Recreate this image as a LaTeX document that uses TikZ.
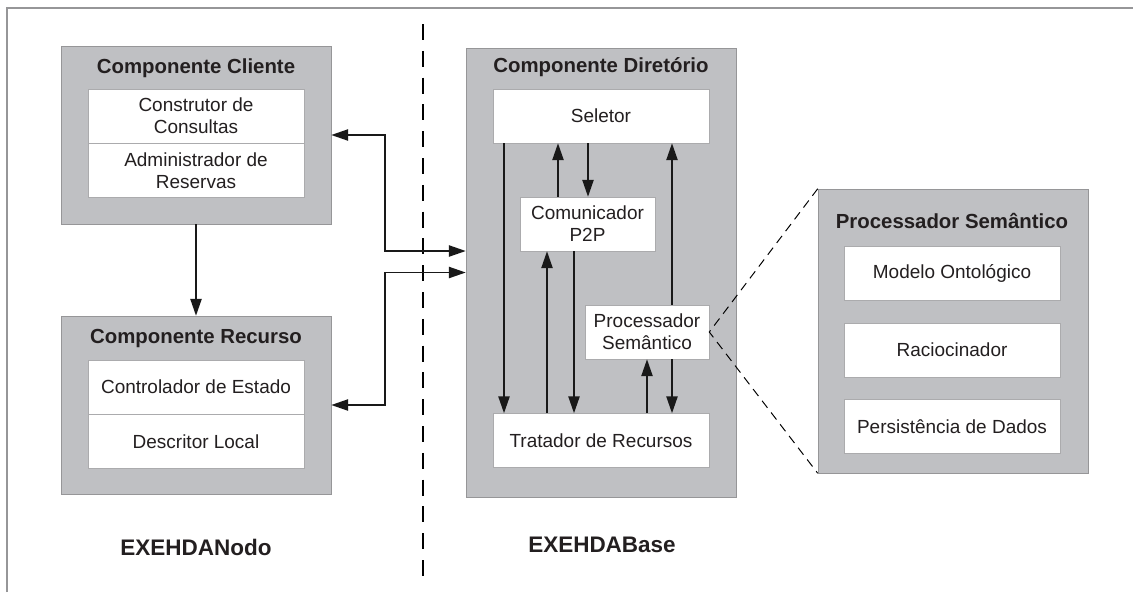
\documentclass[tikz,border=0pt]{standalone}
\usepackage{fontspec}
\setmainfont{Liberation Sans}
\usepackage{xcolor}
\usepackage{tikz}
\usetikzlibrary{chains,positioning,arrows.meta}

\definecolor{boxgray}{RGB}{191,192,195}
\definecolor{boxline}{RGB}{150,150,152}
\definecolor{textgray}{RGB}{35,31,32}

\begin{document}
\begin{tikzpicture}[>={Triangle[length=0.42cm,width=0.28cm]},text=textgray]
        \useasboundingbox (0,0) rectangle (28.325,-14.8);

        \edef\sizebox{6.75cm}
        \tikzstyle{compbox}=[draw=boxline,fill=boxgray,minimum width=\sizebox,inner sep=0pt]
        \tikzstyle{subbox}=[draw=boxline!80,fill=white,minimum width=5.4cm,minimum height=1.35cm,align=center,font=\fontsize{13.5}{15.5}\selectfont]
        \tikzstyle{comptitle}=[font=\bfseries\fontsize{14.5}{17}\selectfont]
        \tikzstyle{nodetitle}=[font=\bfseries\fontsize{16}{19}\selectfont]
        \tikzstyle{link}=[->,line width=1.1pt,black!90]
        % \tikzstyle{zoomline}=[dashed,thin]

        %% page frame and divider
        \draw [boxline,line width=0.8pt] (0.175,-14.8) -- (0.175,-0.2) -- (28.325,-0.2);
        \coordinate (divtop) at (10.575,-0.6);
        \coordinate (divbot) at (10.575,-14.4);
        \draw [dash pattern=on 0.4cm off 0.27cm,line width=1.4pt] (divtop) -- (divbot);

        %% EXEHDANodo
        \node [compbox,minimum height=4.45cm] (cli) at (4.9,-3.375) {};
        \node [comptitle] (clititle) at (4.9,-1.7) {Componente Cliente};
        \begin{scope}[shift={(4.9cm,-2.9cm)},start chain=1 going below,node distance=0mm]
            \node [on chain=1,subbox] (cons) {Construtor de\\Consultas};
            \node [on chain=1,subbox] (admin) {Administrador de\\Reservas};
        \end{scope}

        \node [compbox,minimum height=4.45cm] (rec) at (4.9,-10.125) {};
        \node [comptitle] (rectitle) at (4.9,-8.45) {Componente Recurso};
        \begin{scope}[shift={(4.9cm,-9.675cm)},start chain=1 going below,node distance=0mm]
            \node [on chain=1,subbox] (ctrl) {Controlador de Estado};
            \node [on chain=1,subbox] (desc) {Descritor Local};
        \end{scope}

        \node [nodetitle] (nodo) at (4.9,-13.675) {EXEHDANodo};

        %% EXEHDABase
        \node [compbox,minimum height=11.225cm] (dir) at (15.025,-6.8125) {};
        \node [comptitle] (dirtitle) at (15.025,-1.675) {Componente Diretório};
        \node [subbox] (sel) at (15.025,-2.9) {Seletor};
        \node [subbox,minimum width=3.375cm] (com) at (14.6875,-5.6) {Comunicador\\P2P};
        \node [subbox,minimum width=3.1cm] (proc) at (16.175,-8.3) {Processador\\Semântico};
        \node [subbox] (trat) at (15.025,-11.0125) {Tratador de Recursos};

        \node [nodetitle] (base) at (15.05,-13.625) {EXEHDABase};

        %% Processador Semantico (detail)
        \node [compbox,minimum height=7.1cm] (big) at (23.825,-8.275) {};
        \node [comptitle] (bigtitle) at (23.8,-5.525) {Processador Semântico};
        \begin{scope}[shift={(23.8cm,-6.8375cm)},start chain=1 going below,node distance=0.55cm]
            \node [on chain=1,subbox] (onto) {Modelo Ontológico};
            \node [on chain=1,subbox] (raci) {Raciocinador};
            \node [on chain=1,subbox] (pers) {Persistência de Dados};
        \end{scope}

        %% links between components
        \draw [link] (cli) -- (rec);
        \coordinate (bus) at (9.625,0);
        \coordinate (dirin) at ([yshift=0.5375cm]dir.west);
        \draw [link,<->] (cli.east) -| (bus |- dirin) -- (dirin);
        \draw [link,<->] (rec.east) -| (bus |- dir.west) -- (dir.west);

        %% links inside the directory
        \coordinate (lanea) at (12.6,0);
        \coordinate (laneb) at (13.675,0);
        \coordinate (lanec) at (13.95,0);
        \coordinate (laned) at (14.35,0);
        \coordinate (lanee) at (14.7,0);
        \coordinate (lanef) at (16.175,0);
        \coordinate (laneg) at (16.8,0);
        \draw [link] (sel.south -| lanea) -- (trat.north -| lanea);
        \draw [link] (trat.north -| laneb) -- (com.south -| laneb);
        \draw [link] (com.north -| lanec) -- (sel.south -| lanec);
        \draw [link] (com.south -| laned) -- (trat.north -| laned);
        \draw [link] (sel.south -| lanee) -- (com.north -| lanee);
        \draw [link] (trat.north -| lanef) -- (proc.south -| lanef);
        \draw [link] (proc.north -| laneg) -- (sel.south -| laneg);
        \draw [link] (proc.south -| laneg) -- (trat.north -| laneg);

        %% zoom lines
        \draw [dash pattern=on 0.22cm off 0.15cm,line width=0.7pt] (big.north west) -- (proc.east) -- (big.south west);
    \end{tikzpicture}
\end{document}
